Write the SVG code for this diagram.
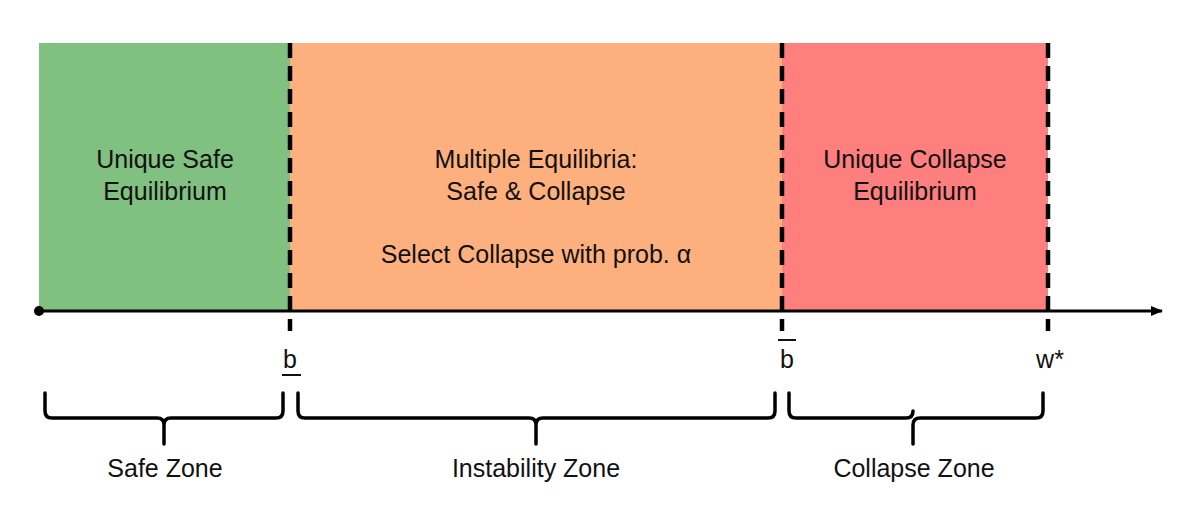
<svg xmlns="http://www.w3.org/2000/svg" width="1200" height="522" viewBox="0 0 1200 522">
<defs>
<style>
text{font-family:"Liberation Sans",Arial,sans-serif;font-size:25px;fill:#111;text-anchor:middle}
.div{stroke:#000;stroke-width:4.5;stroke-dasharray:15 8;fill:none}
.brace{stroke:#000;stroke-width:3.5;fill:none;stroke-linecap:round}
</style>
<marker id="ah" markerWidth="12" markerHeight="10" refX="11" refY="5" orient="auto" markerUnits="userSpaceOnUse"><path d="M0,0 L12,5 L0,10 Z" fill="#000"/></marker>
</defs>
<rect width="1200" height="522" fill="#fff"/>
<g id="safe"><rect x="39" y="43" width="251" height="268" fill="#80c080"/>
<text x="165" y="168">Unique Safe</text><text x="165" y="200">Equilibrium</text></g>
<g id="instability"><rect x="290" y="43" width="492" height="268" fill="#fdb07e"/>
<text x="536" y="168">Multiple Equilibria:</text><text x="536" y="200">Safe &amp; Collapse</text>
<text x="536" y="263">Select Collapse with prob. α</text></g>
<g id="collapse"><rect x="782" y="43" width="266" height="268" fill="#ff7f7f"/>
<text x="915" y="168">Unique Collapse</text><text x="915" y="200">Equilibrium</text></g>
<g id="connectors">
<line x1="39" y1="311" x2="1162" y2="311" stroke="#000" stroke-width="3" marker-end="url(#ah)"/>
<circle cx="39" cy="311" r="5" fill="#000"/>
<line class="div" x1="290" y1="43" x2="290" y2="331"/>
<line class="div" x1="782" y1="43" x2="782" y2="331"/>
<line class="div" x1="1048" y1="43" x2="1048" y2="331"/>
<path class="brace" d="M45,393 v18 q0,7 7,7 h105 q7,0 7,7 v19 M164,425 q0,-7 7,-7 h105 q7,0 7,-7 v-18"/>
<path class="brace" d="M298,393 v18 q0,7 7,7 h224 q7,0 7,7 v19 M536,425 q0,-7 7,-7 h225 q7,0 7,-7 v-18"/>
<path class="brace" d="M789,393 v18 q0,7 7,7 h110 q7,0 7,-7 M913,425 v19 M913,425 q0,-7 7,-7 h116 q7,0 7,-7 v-18"/>
</g>
<g id="labels">
<text x="290" y="368">b</text><line x1="282" y1="375" x2="301" y2="375" stroke="#111" stroke-width="2"/>
<text x="787" y="368">b</text><line x1="778" y1="340" x2="796" y2="340" stroke="#111" stroke-width="2"/>
<text x="1050" y="368">w*</text>
<text x="165" y="477">Safe Zone</text>
<text x="536" y="477">Instability Zone</text>
<text x="914" y="477">Collapse Zone</text>
</g>
</svg>
